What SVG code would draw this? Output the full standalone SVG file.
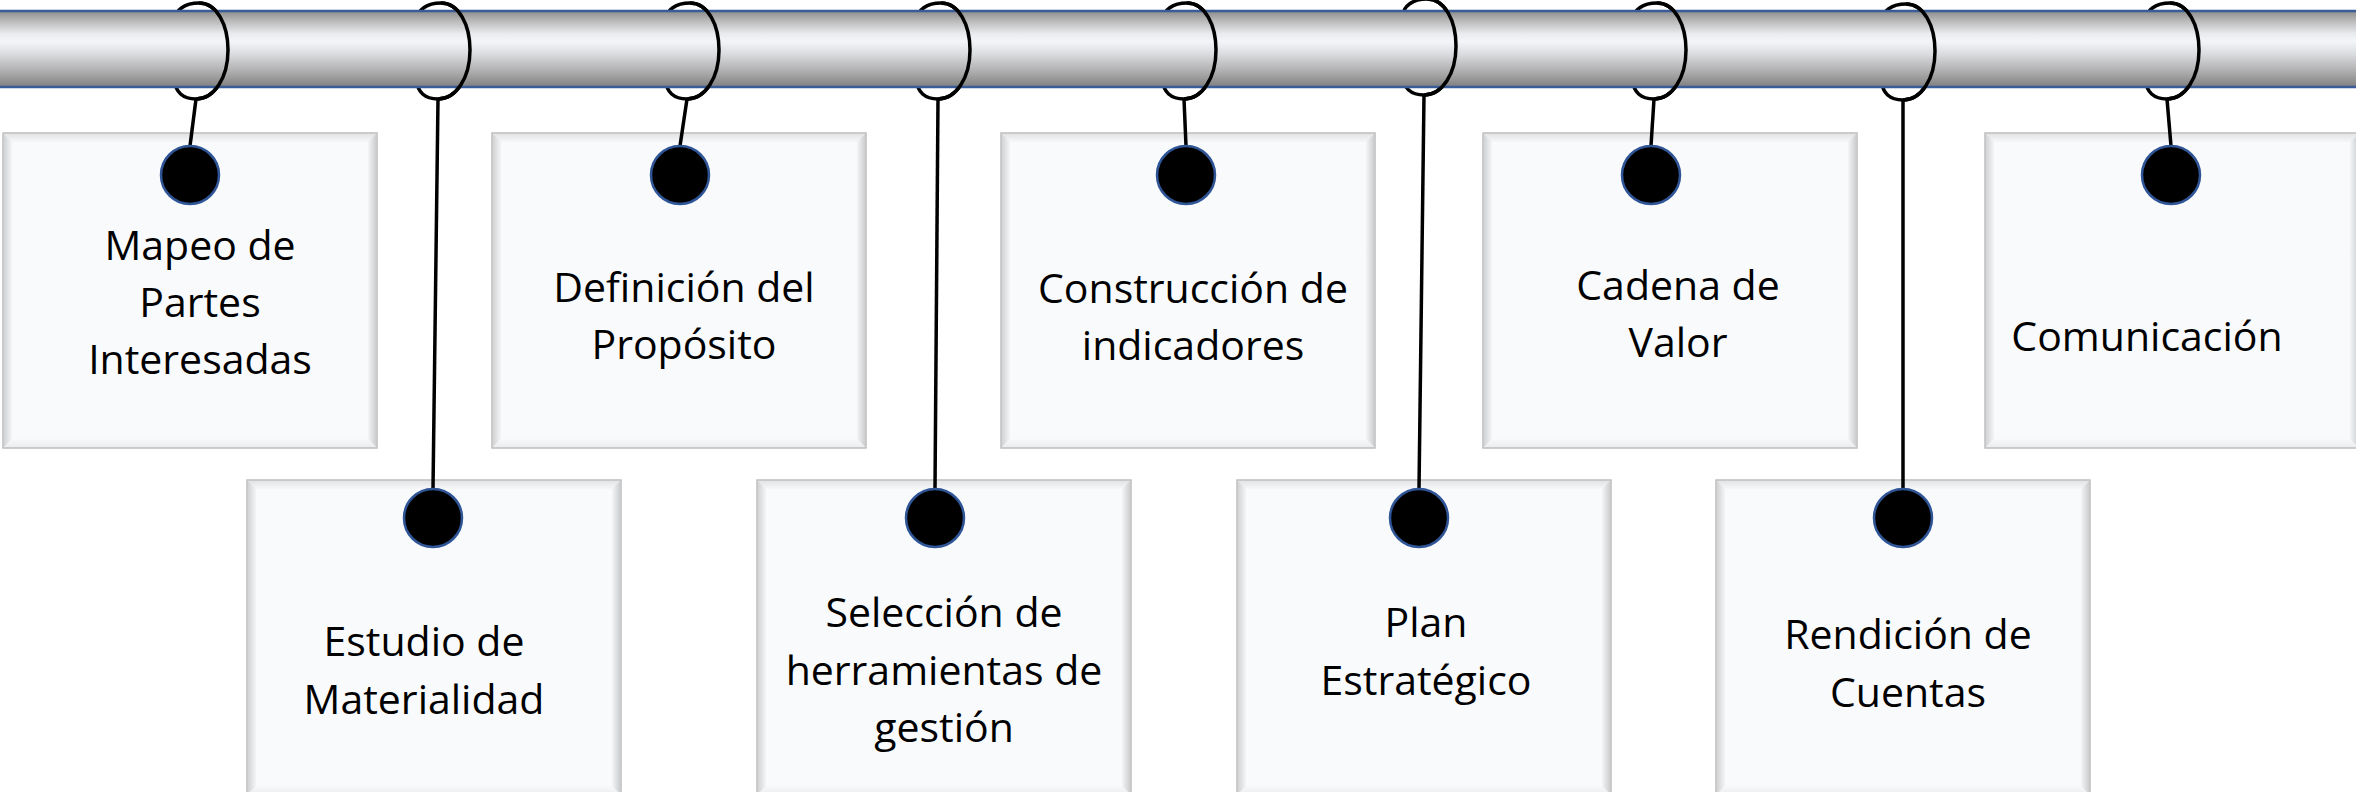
<svg xmlns="http://www.w3.org/2000/svg" xmlns:xlink="http://www.w3.org/1999/xlink" width="2356" height="792" viewBox="0 0 2356 792">
  <defs>
    <style>
      .lbl { font-family: "Open Sans", "Liberation Sans", sans-serif; font-size: 41px; fill: #000; text-anchor: middle; }
      .ring { fill: none; stroke: #000; stroke-width: 3.5; }
      .hang { fill: none; stroke: #000; stroke-width: 3.5; }
      .dot { fill: #000; stroke: #2F5597; stroke-width: 2.5; }
      .edge { stroke: #3A5C99; stroke-width: 2.5; }
    </style>
    <linearGradient id="rod" x1="0" y1="0" x2="0" y2="1">
      <stop offset="0" stop-color="#8C8C8C"/>
      <stop offset="0.12" stop-color="#B6B6B7"/>
      <stop offset="0.3" stop-color="#E9EBEE"/>
      <stop offset="0.4" stop-color="#F3F5F8"/>
      <stop offset="0.56" stop-color="#DCDDE0"/>
      <stop offset="0.8" stop-color="#ADADAE"/>
      <stop offset="1" stop-color="#808080"/>
    </linearGradient>
    <linearGradient id="bvTop" x1="0" y1="0" x2="0" y2="1">
      <stop offset="0" stop-color="#E3E4E6"/>
      <stop offset="1" stop-color="#F6F7F9"/>
    </linearGradient>
    <linearGradient id="bvLeft" x1="0" y1="0" x2="1" y2="0">
      <stop offset="0" stop-color="#D2D3D5"/>
      <stop offset="1" stop-color="#F4F5F7"/>
    </linearGradient>
    <linearGradient id="bvRight" x1="0" y1="0" x2="1" y2="0">
      <stop offset="0" stop-color="#F4F5F7"/>
      <stop offset="1" stop-color="#CDCED0"/>
    </linearGradient>
    <linearGradient id="bvBot" x1="0" y1="0" x2="0" y2="1">
      <stop offset="0" stop-color="#F8F9FB"/>
      <stop offset="1" stop-color="#ECEDEF"/>
    </linearGradient>
    <g id="card">
      <rect x="0" y="0" width="374" height="315" fill="#EDEEF0" stroke="#BDBDBD" stroke-width="1.5"/>
      <polygon points="1,1 373,1 365,9 9,9" fill="url(#bvTop)"/>
      <polygon points="1,1 9,9 9,306 1,314" fill="url(#bvLeft)"/>
      <polygon points="373,1 373,314 365,306 365,9" fill="url(#bvRight)"/>
      <polygon points="1,314 9,306 365,306 373,314" fill="url(#bvBot)"/>
      <rect x="9" y="9" width="356" height="297" fill="#F9FAFC"/>
    </g>
    <path id="ringBack" d="M0,3 C18,3 29,25 29,50 C29,78 15,99 -3,99 C-16,99 -24,92 -24,80 L-24,20 C-24,10 -14,3 0,3 Z"/>
    <path id="ringFront" d="M0,3 C18,3 29,25 29,50 C29,78 15,99 -3,99"/>
  </defs>

  <rect x="0" y="0" width="2356" height="792" fill="#FFFFFF"/>

  <!-- rings behind the rod -->
  <g id="ring-backs" class="ring">
    <use xlink:href="#ringBack" href="#ringBack" x="199" y="0"/>
    <use xlink:href="#ringBack" href="#ringBack" x="441" y="0"/>
    <use xlink:href="#ringBack" href="#ringBack" x="690" y="0"/>
    <use xlink:href="#ringBack" href="#ringBack" x="941" y="0"/>
    <use xlink:href="#ringBack" href="#ringBack" x="1187" y="0"/>
    <use xlink:href="#ringBack" href="#ringBack" x="1427" y="-4"/>
    <use xlink:href="#ringBack" href="#ringBack" x="1657" y="0"/>
    <use xlink:href="#ringBack" href="#ringBack" x="1906" y="1"/>
    <use xlink:href="#ringBack" href="#ringBack" x="2170" y="0"/>
  </g>

  <!-- rod -->
  <g id="rod-bar">
    <rect x="0" y="11" width="2356" height="76" fill="url(#rod)"/>
    <line class="edge" x1="0" y1="11" x2="2356" y2="11"/>
    <line class="edge" x1="0" y1="87" x2="2356" y2="87"/>
  </g>

  <!-- rings in front of the rod -->
  <g id="ring-fronts" class="ring">
    <use xlink:href="#ringFront" href="#ringFront" x="199" y="0"/>
    <use xlink:href="#ringFront" href="#ringFront" x="441" y="0"/>
    <use xlink:href="#ringFront" href="#ringFront" x="690" y="0"/>
    <use xlink:href="#ringFront" href="#ringFront" x="941" y="0"/>
    <use xlink:href="#ringFront" href="#ringFront" x="1187" y="0"/>
    <use xlink:href="#ringFront" href="#ringFront" x="1427" y="-4"/>
    <use xlink:href="#ringFront" href="#ringFront" x="1657" y="0"/>
    <use xlink:href="#ringFront" href="#ringFront" x="1906" y="1"/>
    <use xlink:href="#ringFront" href="#ringFront" x="2170" y="0"/>
  </g>

  <!-- top row -->
  <g id="node-mapeo">
    <use xlink:href="#card" href="#card" x="3" y="133"/>
    <text class="lbl"><tspan x="200" y="260">Mapeo de</tspan><tspan x="200" y="317">Partes</tspan><tspan x="200" y="374">Interesadas</tspan></text>
  </g>
  <g id="node-definicion">
    <use xlink:href="#card" href="#card" x="492" y="133"/>
    <text class="lbl"><tspan x="684" y="302">Definición del</tspan><tspan x="684" y="359">Propósito</tspan></text>
  </g>
  <g id="node-construccion">
    <use xlink:href="#card" href="#card" x="1001" y="133"/>
    <text class="lbl"><tspan x="1193" y="303">Construcción de</tspan><tspan x="1193" y="360">indicadores</tspan></text>
  </g>
  <g id="node-cadena">
    <use xlink:href="#card" href="#card" x="1483" y="133"/>
    <text class="lbl"><tspan x="1678" y="300">Cadena de</tspan><tspan x="1678" y="357">Valor</tspan></text>
  </g>
  <g id="node-comunicacion">
    <use xlink:href="#card" href="#card" x="1985" y="133"/>
    <text class="lbl"><tspan x="2147" y="351">Comunicación</tspan></text>
  </g>

  <!-- bottom row -->
  <g id="node-estudio">
    <use xlink:href="#card" href="#card" x="247" y="480"/>
    <text class="lbl"><tspan x="424" y="656">Estudio de</tspan><tspan x="424" y="714">Materialidad</tspan></text>
  </g>
  <g id="node-seleccion">
    <use xlink:href="#card" href="#card" x="757" y="480"/>
    <text class="lbl"><tspan x="944" y="627">Selección de</tspan><tspan x="944" y="685">herramientas de</tspan><tspan x="944" y="742">gestión</tspan></text>
  </g>
  <g id="node-plan">
    <use xlink:href="#card" href="#card" x="1237" y="480"/>
    <text class="lbl"><tspan x="1426" y="637">Plan</tspan><tspan x="1426" y="695">Estratégico</tspan></text>
  </g>
  <g id="node-rendicion">
    <use xlink:href="#card" href="#card" x="1716" y="480"/>
    <text class="lbl"><tspan x="1908" y="649">Rendición de</tspan><tspan x="1908" y="707">Cuentas</tspan></text>
  </g>

  <!-- connectors: hanging cords from rings to pins -->
  <g id="connectors" class="hang">
    <line x1="196" y1="99" x2="190" y2="146"/>
    <line x1="438" y1="99" x2="433" y2="489"/>
    <line x1="687" y1="99" x2="680" y2="146"/>
    <line x1="938" y1="99" x2="935" y2="489"/>
    <line x1="1184" y1="99" x2="1186" y2="146"/>
    <line x1="1424" y1="95" x2="1419" y2="489"/>
    <line x1="1654" y1="99" x2="1651" y2="146"/>
    <line x1="1903" y1="100" x2="1903" y2="489"/>
    <line x1="2167" y1="99" x2="2171" y2="146"/>
  </g>

  <!-- pins -->
  <g id="pins">
    <circle class="dot" cx="190" cy="175" r="29"/>
    <circle class="dot" cx="680" cy="175" r="29"/>
    <circle class="dot" cx="1186" cy="175" r="29"/>
    <circle class="dot" cx="1651" cy="175" r="29"/>
    <circle class="dot" cx="2171" cy="175" r="29"/>
    <circle class="dot" cx="433" cy="518" r="29"/>
    <circle class="dot" cx="935" cy="518" r="29"/>
    <circle class="dot" cx="1419" cy="518" r="29"/>
    <circle class="dot" cx="1903" cy="518" r="29"/>
  </g>
</svg>
